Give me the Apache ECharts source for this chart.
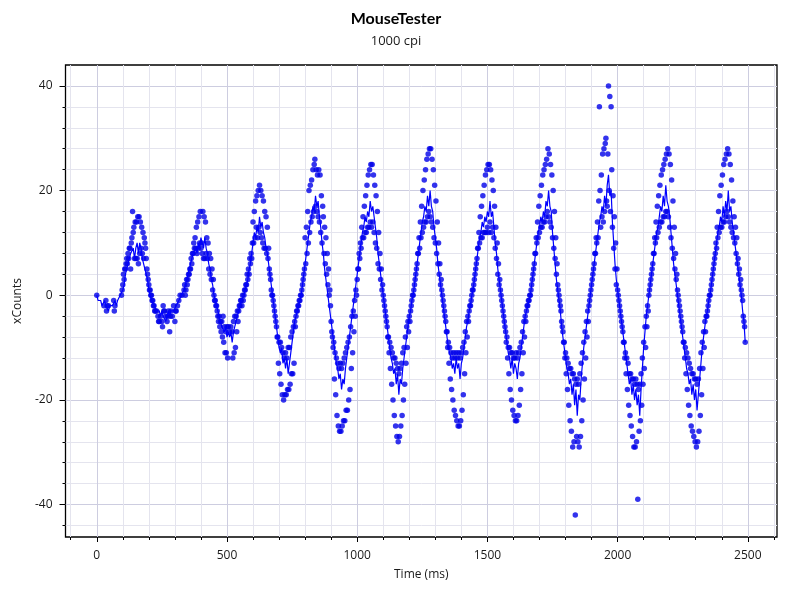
<!DOCTYPE html>
<html>
<head>
<meta charset="utf-8">
<title>MouseTester</title>
<script src="https://cdn.jsdelivr.net/npm/echarts@6.0.0/dist/echarts.min.js"></script>
<style>
  html, body { margin: 0; padding: 0; background: #fff; }
  #chart { width: 792px; height: 591px; }
</style>
</head>
<body>
<div id="chart"></div>
<script>
// sampling steps of the two series (ms)
const dotStepMs = 2.5;
const lineStepMs = 5;

// raw xCounts per report, 20 values per 50 ms row (null = no report)
const dotCounts = [
  0, null, null, null, null, null, null, null, null, null, null, -2, null, null, -1, -3, -2, null, -2, null,
  null, null, null, null, null, null, -1, -3, -2, null, null, null, null, null, null, null, null, null, 0, 1,
  2, 4, 3, 5, 5, 6, 7, 6, 8, 7, 9, 9, 5, 10, 11, 16, 12, 13, 7, 14,
  7, 14, 7, 15, 6, 15, 8, 14, 9, 13, 8, 12, 7, 11, 10, 9, 7, 5, 4, 3,
  2, 1, 1, 0, 0, -1, -1, -2, -2, -3, -3, null, -3, null, -4, -5, -5, null, -4, null,
  -5, -6, -2, -3, -3, null, -4, null, -5, -4, -3, null, -7, -4, -3, null, -4, null, -2, null,
  -5, -3, -3, null, -2, null, -1, null, 0, null, null, 0, null, null, 1, 2, 0, 1, 3, 2,
  3, 4, 4, 5, 5, 7, 6, 8, 8, 10, 9, 11, 9, 13, 8, 14, 9, 15, 10, 16,
  9, 10, 8, 16, 7, 15, 7, 14, 8, 11, 7, 10, 5, 8, 4, 7, 3, 5, 1, 3,
  0, -1, -1, -2, -2, -3, -4, -5, -4, -6, -5, -7, -5, -8, -4, -9, -6, -11, -7, -11,
  -6, -12, -6, null, -7, null, -6, null, -7, -12, -5, -11, -4, -10, -4, -7, -3, -5, -3, -2,
  -2, -1, -1, -2, 0, -1, 0, 1, 1, 2, 2, 4, 3, 5, 4, 7, 6, 8, 7, 10,
  14, 10, 16, 11, 18, 13, 19, 11, 20, 13, 21, 12, 20, 11, 19, 10, 18, 9, 16, 9,
  15, 8, 13, 7, 9, 5, 4, 3, 1, 0, 0, -1, -2, -3, -4, -5, -6, -8, -8, -13,
  -9, -15, -9, -17, -10, -19, -11, -20, -12, -19, -11, -19, -12, -18, -10, -18, -10, -17, -8, -15,
  -7, -15, -6, -13, -5, -6, -4, -3, -3, -2, -2, -1, -1, 0, 0, 1, 2, 3, 4, 5,
  11, 6, 13, 8, 16, 10, 20, 12, 21, 14, 22, 15, 24, 16, 25, 26, 17, 24, 16, 23,
  15, 24, 14, 23, 12, 19, 10, 17, 15, 8, 13, 6, 11, 4, 8, 2, 5, 0, 1, -2,
  -5, -7, -8, -10, -9, -16, -11, -19, -12, -23, -13, -25, -14, -26, -13, -26, -14, -25, -13, -24,
  -12, -24, -11, -22, -10, -22, -9, -20, -8, -18, -6, -14, -4, -11, -3, -7, -1, -4, 1, 0,
  3, 5, 5, 8, 7, 10, 9, 13, 11, 15, 11, 17, 12, 19, 12, 21, 13, 23, 13, 24,
  14, 25, 13, 25, 14, 23, 12, 21, 10, 19, 9, 16, 6, 12, 5, 8, 3, 5, 1, 2,
  0, -1, -2, -3, -4, -5, -6, -8, -8, -11, -9, -14, -10, -17, -11, -20, -12, -23, -12, -25,
  -13, -27, -14, -28, -15, -27, -14, -25, -13, -23, -11, -20, -10, -17, -8, -13, -6, -10, -5, -7,
  -4, -5, -3, -2, -1, 0, 0, 1, 2, 3, 4, 5, 6, 8, 8, 11, 9, 14, 11, 17,
  12, 20, 13, 22, 14, 24, 14, 26, 15, 27, 16, 28, 15, 28, 14, 26, 13, 24, 11, 21,
  10, 18, 8, 14, 6, 10, 4, 6, 2, 3, 1, 0, -1, -2, -3, -4, -5, -7, -7, -10,
  -9, -13, -10, -16, -11, -18, -12, -20, -11, -22, -12, -23, -11, -24, -12, -25, -11, -25, -12, -24,
  -11, -22, -10, -19, -9, -15, -7, -11, -5, -8, -4, -5, -3, -2, -2, -1, 0, 1, 1, 2,
  3, 4, 5, 6, 7, 9, 9, 12, 10, 15, 11, 17, 11, 19, 12, 21, 12, 23, 12, 24,
  13, 25, 12, 25, 14, 24, 12, 22, 13, 20, 11, 17, 9, 13, 7, 10, 4, 6, 2, 3,
  1, 0, -1, -2, -3, -4, -5, -6, -7, -9, -8, -12, -10, -15, -10, -18, -11, -20, -11, -22,
  -12, -23, -12, -24, -11, -24, -12, -23, -11, -21, -10, -18, -9, -15, -7, -11, -5, -8, -4, -5,
  -3, -2, -2, -1, -1, 0, 0, 1, 2, 3, 4, 5, 6, 8, 8, 11, 10, 14, 11, 17,
  12, 19, 13, 21, 13, 23, 14, 24, 14, 25, 15, 26, 16, 28, 15, 27, 14, 25, 13, 23,
  11, 20, 9, 16, 7, 11, 4, 6, 2, 1, 0, -1, -2, -3, -5, -6, -7, -9, -9, -12,
  -11, -15, -12, -18, -13, -21, -14, -24, -14, -26, -15, -29, -15, -28, -16, -42, -17, -27, -16, -28,
  -17, -29, -15, -27, -13, -24, -11, -20, -9, -16, -7, -12, -5, -8, -3, -5, -2, -1, 0, 1,
  2, 3, 4, 5, 6, 8, 8, 11, 10, 14, 11, 18, 36, 20, 13, 23, 15, 27, 14, 28,
  16, 29, 30, 18, 17, 27, 40, 20, 38, 16, 36, 24, 13, 19, 9, 15, 5, 10, 2, 5,
  1, 0, -1, -2, -3, -4, -5, -6, -7, -9, -9, -12, -11, -15, -12, -18, -13, -21, -15, -23,
  -15, -25, -16, -27, -16, -29, -17, -29, -16, -28, -17, -39, -18, -26, -17, -24, -15, -21, -12, -17,
  -9, -14, -6, -10, -4, -6, -2, -3, 0, 1, 2, 3, 4, 5, 6, 8, 8, 11, 10, 14,
  11, 17, 12, 19, 13, 21, 14, 23, 14, 24, 15, 25, 15, 26, 16, 27, 16, 28, 15, 27,
  13, 25, 11, 22, 9, 18, 7, 13, 5, 8, 3, 4, 1, 0, -1, -2, -3, -4, -5, -6,
  -7, -9, -9, -12, -10, -15, -11, -18, -12, -21, -13, -23, -14, -25, -15, -26, -15, -27, -16, -28,
  -16, -29, -17, -28, -16, -26, -14, -23, -11, -19, -9, -14, -7, -10, -5, -7, -4, -4, -3, -2,
  -1, 0, 0, 1, 2, 3, 4, 5, 6, 7, 8, 10, 9, 13, 11, 16, 12, 19, 13, 21,
  13, 23, 14, 25, 14, 26, 15, 27, 16, 28, 15, 27, 14, 25, 13, 22, 12, 18, 11, 15,
  10, 13, 8, 11, 6, 7, 4, 5, 2, 3, 1, 0, -1, -4, -5, -6, -9
];

// averaged trace, 10 values per 50 ms row
const lineCounts = [
  0, -1, -1, -1, -2, -2, -1, -2, -2, -3,
  -2, -2, -2, -2, -1, -2, -1, -1, 0, 0,
  1, 2, 4, 5, 6, 7, 8, 8, 9, 7,
  9, 10, 8, 10, 9, 7, 7, 5, 4, 3,
  1, 0, -1, -1, -2, -2, -3, -3, -3, -4,
  -3, -4, -4, -5, -4, -3, -4, -3, -3, -3,
  -3, -2, -2, -1, -1, 0, 0, 1, 2, 3,
  4, 5, 6, 7, 8, 8, 9, 8, 10, 9,
  11, 10, 9, 11, 9, 8, 6, 5, 3, 2,
  0, -1, -2, -3, -4, -5, -6, -6, -7, -6,
  -8, -7, -8, -7, -9, -7, -6, -5, -4, -3,
  -2, -1, -1, 0, 1, 2, 3, 5, 6, 8,
  10, 12, 11, 13, 12, 15, 13, 14, 12, 11,
  9, 8, 6, 4, 2, 0, -2, -4, -6, -8,
  -10, -11, -10, -13, -12, -14, -12, -15, -13, -11,
  -9, -7, -5, -4, -3, -2, -1, 0, 2, 4,
  6, 8, 10, 12, 14, 15, 17, 16, 19, 17,
  18, 15, 13, 10, 8, 5, 3, 1, -1, -3,
  -5, -7, -9, -11, -13, -14, -16, -15, -18, -16,
  -17, -14, -12, -10, -8, -6, -4, -2, 0, 2,
  4, 6, 8, 10, 12, 13, 15, 14, 16, 15,
  18, 16, 17, 15, 13, 11, 8, 6, 4, 2,
  0, -2, -4, -6, -8, -10, -12, -13, -15, -14,
  -17, -15, -19, -16, -17, -14, -12, -10, -8, -6,
  -4, -3, -1, 0, 2, 4, 6, 8, 10, 12,
  14, 15, 17, 16, 19, 17, 20, 17, 16, 13,
  11, 9, 6, 4, 2, 0, -2, -4, -6, -8,
  -10, -11, -12, -14, -13, -15, -12, -14, -13, -16,
  -13, -12, -10, -8, -6, -5, -3, -2, 0, 1,
  3, 5, 7, 9, 11, 12, 14, 13, 15, 14,
  16, 15, 18, 15, 16, 13, 10, 8, 5, 3,
  1, -1, -3, -5, -7, -9, -11, -12, -14, -12,
  -15, -13, -14, -16, -13, -12, -10, -8, -6, -4,
  -3, -2, -1, 0, 2, 4, 6, 8, 10, 12,
  13, 15, 14, 16, 15, 18, 17, 20, 17, 16,
  12, 9, 6, 3, 1, -1, -3, -6, -8, -10,
  -12, -14, -15, -17, -16, -19, -17, -21, -18, -23,
  -19, -20, -16, -13, -10, -8, -6, -4, -2, 0,
  2, 4, 6, 8, 10, 12, 14, 15, 17, 16,
  19, 17, 21, 23, 19, 20, 14, 10, 6, 3,
  1, -1, -3, -5, -7, -9, -11, -13, -15, -17,
  -16, -19, -17, -20, -18, -21, -19, -23, -18, -14,
  -10, -7, -4, -2, 0, 2, 4, 6, 8, 10,
  12, 13, 15, 17, 16, 19, 17, 21, 18, 17,
  15, 12, 9, 6, 4, 2, 0, -2, -4, -6,
  -8, -10, -12, -14, -15, -17, -16, -19, -17, -20,
  -18, -22, -19, -16, -13, -10, -8, -6, -4, -3,
  -1, 0, 2, 4, 6, 8, 10, 12, 13, 15,
  14, 17, 15, 18, 16, 20, 16, 17, 14, 12,
  10, 8, 6, 4, 2, 0, -3, -5, -9
];

// axis ranges and tick positions
const xRange = [-120, 2612];
const yRange = [-46.2, 44];
const xLabelValues = [0, 500, 1000, 1500, 2000, 2500];
const xMinorValues = [-100, 100, 200, 300, 400, 600, 700, 800, 900, 1100, 1200, 1300, 1400,
  1600, 1700, 1800, 1900, 2100, 2200, 2300, 2400, 2600];
const yLabelValues = [-40, -20, 0, 20, 40];
const yMinorValues = [-44, -36, -32, -28, -24, -16, -12, -8, -4, 4, 8, 12, 16, 24, 28, 32, 36];

const dotData = [];
dotCounts.forEach(function (v, i) {
  if (v !== null) dotData.push([i * dotStepMs, v]);
});
const lineData = lineCounts.map(function (v, i) { return [i * lineStepMs, v]; });

const font = 'Open Sans';
const textColor = '#1a1a1a';
const majorGrid = '#cdcde0';
const minorGrid = '#e4e4ee';

function minorAxis(range, values, pos) {
  return {
    type: 'value', position: pos, min: range[0], max: range[1],
    axisLine: { show: false, onZero: false },
    axisTick: { show: true, customValues: values, length: 3, lineStyle: { color: '#000' } },
    axisLabel: { show: false },
    splitLine: { show: true, lineStyle: { color: minorGrid, width: 1 } }
  };
}

function majorAxis(range, values, pos, name, tickLen, nameGap) {
  return {
    type: 'value', position: pos, min: range[0], max: range[1],
    name: name, nameLocation: 'middle', nameGap: nameGap,
    nameTextStyle: { fontFamily: font, fontSize: 12, color: textColor },
    axisLine: { show: false, onZero: false },
    axisTick: { show: true, customValues: values, length: tickLen, lineStyle: { color: '#000' } },
    axisLabel: {
      customValues: values, margin: 13, fontFamily: font, fontSize: 12, color: textColor,
      formatter: function (v) { return String(v); }
    },
    splitLine: { show: true, lineStyle: { color: majorGrid, width: 1 } }
  };
}

const chart = echarts.init(document.getElementById('chart'));

chart.setOption({
  animation: false,
  backgroundColor: '#fff',
  title: {
    text: 'MouseTester',
    subtext: '1000 cpi',
    left: 'center',
    top: 6,
    itemGap: 8,
    textStyle: { fontFamily: 'Lato', fontWeight: 'bold', fontSize: 16, color: '#000' },
    subtextStyle: { fontFamily: font, fontSize: 13, color: textColor }
  },
  grid: {
    left: 65.5, right: 15, top: 65, bottom: 54,
    show: true, backgroundColor: '#fff', borderColor: '#000', borderWidth: 1.3
  },
  xAxis: [
    minorAxis(xRange, xMinorValues, 'bottom'),
    majorAxis(xRange, xLabelValues, 'bottom', 'Time (ms)', 5, 32)
  ],
  yAxis: [
    minorAxis(yRange, yMinorValues, 'left'),
    majorAxis(yRange, yLabelValues, 'left', 'xCounts', 6, 36)
  ],
  series: [
    {
      name: 'reports',
      type: 'scatter',
      xAxisIndex: 1,
      yAxisIndex: 1,
      symbol: 'circle',
      symbolSize: 5.5,
      itemStyle: { color: '#0000e8' },
      data: dotData,
      z: 3
    },
    {
      name: 'trace',
      type: 'line',
      xAxisIndex: 1,
      yAxisIndex: 1,
      showSymbol: false,
      lineStyle: { color: '#0000ff', width: 1.2 },
      data: lineData,
      z: 4
    }
  ]
});
</script>
</body>
</html>
